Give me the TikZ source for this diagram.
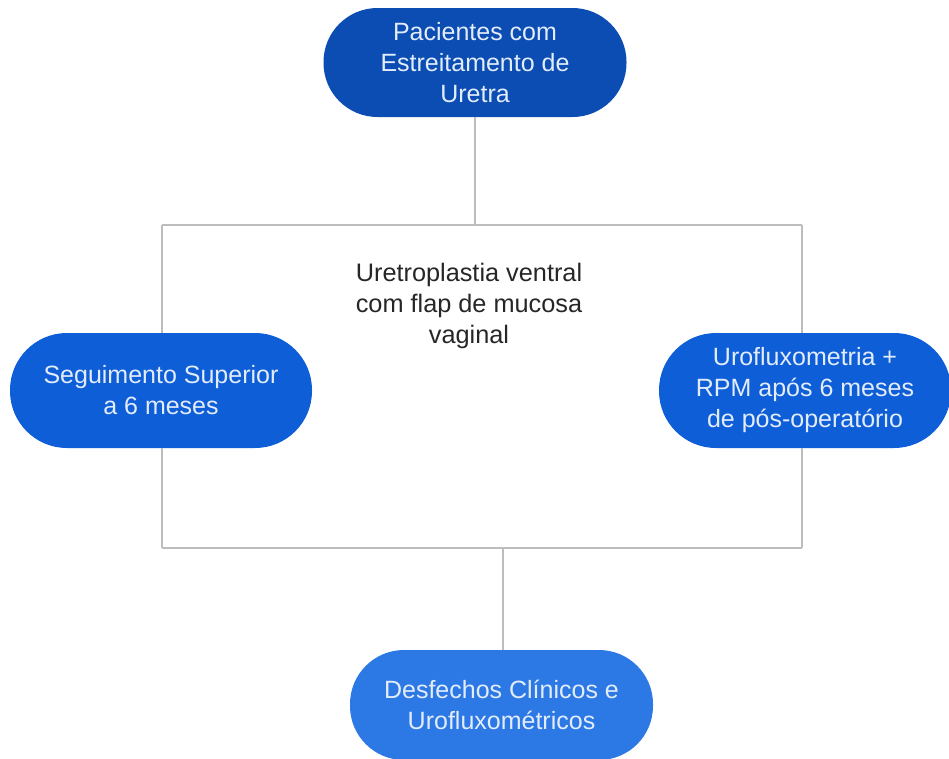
\documentclass[tikz,border=0pt]{standalone}
\usepackage{fontspec}
\setmainfont{Liberation Sans}
\definecolor{cdark}{HTML}{0B4DB2}
\definecolor{cmid}{HTML}{0E5ED8}
\definecolor{clight}{HTML}{2C79E5}
\definecolor{ctext}{HTML}{E3ECFA}
\definecolor{cline}{HTML}{BDBDBD}
\tikzset{
  pill/.style={draw=none, rounded corners=54pt, minimum height=110pt, inner sep=0pt,
    align=center, text=ctext, font=\fontsize{25}{31}\selectfont},
  conn/.style={draw=cline, line width=1.2pt},
  plain/.style={align=center, text=black!85, font=\fontsize{25.3}{31}\selectfont}
}
\begin{document}
\begin{tikzpicture}[x=1pt,y=-1pt]
\useasboundingbox (0,0) rectangle (949,758);
% connector coordinates
\coordinate (jtop) at (475,225);
\coordinate (tl) at (162,225);
\coordinate (tr) at (802,225);
\coordinate (bl) at (162,548);
\coordinate (br) at (802,548);
\coordinate (jbot) at (503,548);
% nodes
\node[pill, fill=cdark, minimum width=303pt, minimum height=109pt] (top) at (475,62.5) {Pacientes com\\Estreitamento de\\Uretra};
\node[plain] (mid) at (469,306) {Uretroplastia ventral\\com flap de mucosa\\vaginal};
\node[pill, fill=cmid, minimum width=302pt, minimum height=115pt, rounded corners=57pt] (left) at (161,390.5) {Seguimento Superior\\a 6 meses};
\node[pill, fill=cmid, minimum width=292pt, minimum height=115pt, rounded corners=57pt] (right) at (805,390.5) {Urofluxometria +\\RPM após 6 meses\\de pós-operatório};
\node[pill, fill=clight, minimum width=303pt, minimum height=110pt] (bot) at (501.5,705) {Desfechos Clínicos e\\Urofluxométricos};
% connectors
\draw[conn] (top.south) -- (jtop);
\draw[conn] (tl) -- (tr);
\draw[conn] (tl) -- (left.north -| tl);
\draw[conn] (left.south -| bl) -- (bl);
\draw[conn] (tr) -- (right.north -| tr);
\draw[conn] (right.south -| br) -- (br);
\draw[conn] (bl) -- (br);
\draw[conn] (jbot) -- (bot.north -| jbot);
\end{tikzpicture}
\end{document}
